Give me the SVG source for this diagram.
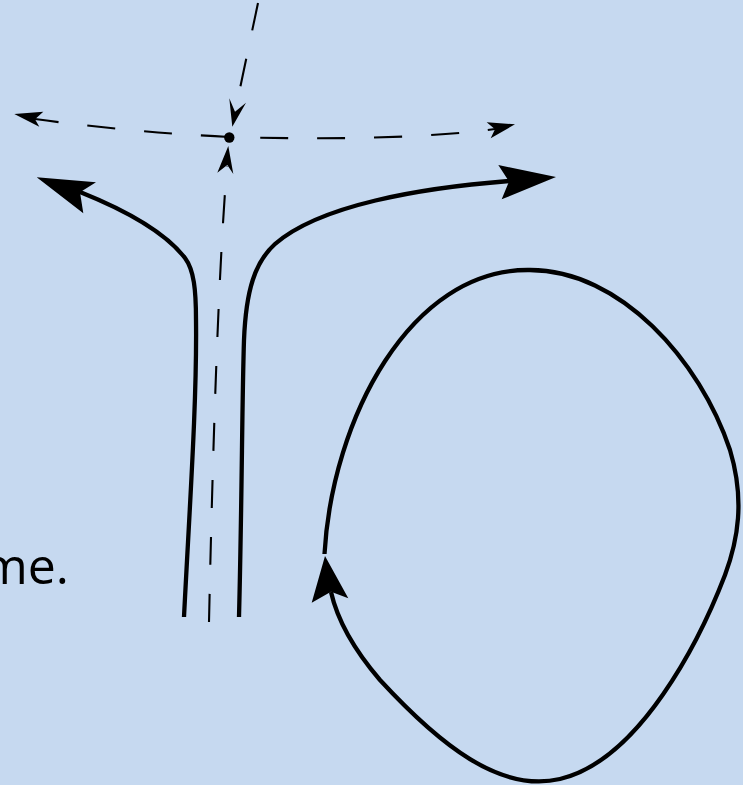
<svg xmlns="http://www.w3.org/2000/svg" width="743" height="785" viewBox="0 0 743 785">
<style>
.thick{fill:none;stroke:#000;stroke-width:4.3}
.dash{fill:none;stroke:#000;stroke-width:2.1;stroke-dasharray:28 29}
.head{fill:#000;stroke:none}
.lbl{font-family:"Open Sans","Noto Sans",sans-serif;font-size:50px;fill:#000}
</style>
<rect x="0" y="0" width="743" height="785" fill="#C6D9F0"/>
<g id="label"><text class="lbl" x="69" y="584" text-anchor="end">me.</text></g>
<g id="connectors">
<path class="dash" d="M258,3 L235,112"/>
<path class="dash" d="M209,622 Q216,300 227,166"/>
<path class="dash" d="M229,137 Q130,132 35,119"/>
<path class="dash" style="stroke-dashoffset:26" d="M229,137 C330,140 430,138 495,129"/>
<path class="thick" d="M184,617 C190,500 197,400 196,320 C196,290 194,270 185,258 C165,232 125,210 80,192"/>
<path class="thick" d="M239,617 C242,500 242,400 244,340 C246,290 255,262 275,244 C320,205 420,188 509,181"/>
<path class="thick" d="M324.5,554 C332,420 410,268 530,270 C620,270 700,360 730,450 C745,500 738,540 725,575 C700,640 640,760 560,779 C500,793 440,745 380,680 C350,645 336,614 331,592"/>
<path class="head" d="M36.7,177.3 L96,182.3 L80,192.3 L83.3,213.3 Z"/>
<path class="head" d="M556,177 L498.3,165 L509,181.5 L501.7,199.3 Z"/>
<path class="head" d="M325,556 L348.3,598.3 L331,591.7 L311.7,602.7 Z"/>
<path class="head" d="M232.3,126.7 L229.3,98.3 L235,111.7 L246,102.7 Z"/>
<path class="head" d="M228.3,146 L217.3,172.7 L227.3,165 L233.3,174 Z"/>
<path class="head" d="M14.3,114 L43.3,111.7 L35,119.3 L39.3,126.7 Z"/>
<path class="head" d="M515,124.3 L486.7,122.3 L495,129.3 L490.7,138.3 Z"/>
</g>
<g id="node-point"><circle cx="229.3" cy="137.5" r="5.2" fill="#000"/></g>
</svg>
